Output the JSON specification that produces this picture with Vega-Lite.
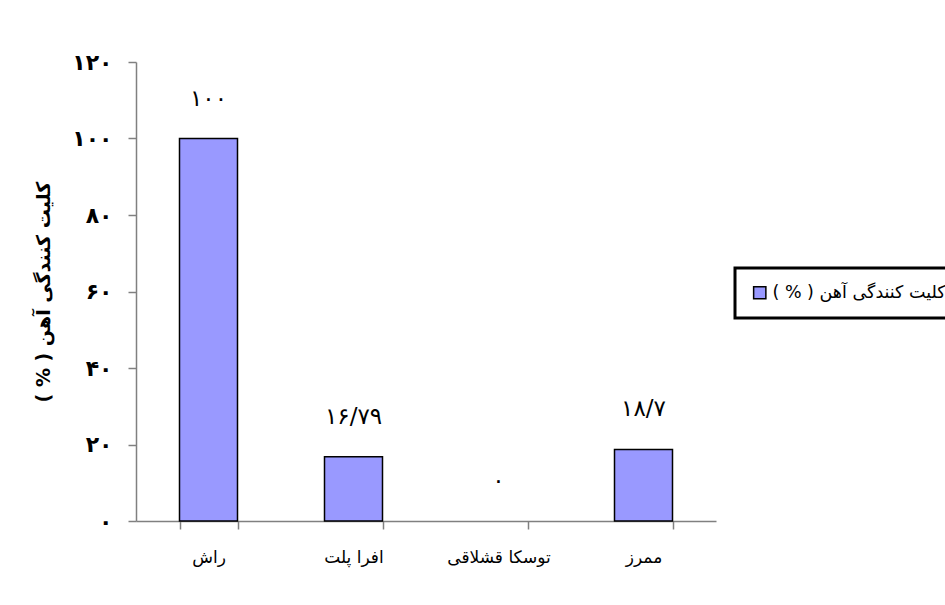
{
  "$schema": "https://vega.github.io/schema/vega-lite/v6.json",
  "width": 580,
  "height": 459,
  "autosize": {"type": "none"},
  "padding": {"left": 136, "top": 62, "right": 229, "bottom": 84},
  "background": "white",
  "config": {
    "view": {"stroke": null},
    "font": "DejaVu Sans"
  },
  "data": {
    "values": [
      {"species": "راش", "value": 100, "label": "۱۰۰", "series": "( % ) کلیت کنندگی آهن"},
      {"species": "افرا پلت", "value": 16.79, "label": "۱۶/۷۹", "series": "( % ) کلیت کنندگی آهن"},
      {"species": "توسکا قشلاقی", "value": 0, "label": "۰", "series": "( % ) کلیت کنندگی آهن"},
      {"species": "ممرز", "value": 18.7, "label": "۱۸/۷", "series": "( % ) کلیت کنندگی آهن"}
    ]
  },
  "encoding": {
    "x": {
      "field": "species",
      "type": "nominal",
      "sort": ["راش", "افرا پلت", "توسکا قشلاقی", "ممرز"],
      "scale": {"paddingInner": 0.6, "paddingOuter": 0.3},
      "axis": {
        "title": null,
        "labelAngle": 0,
        "labelFontSize": 17,
        "labelColor": "black",
        "labelPadding": 20,
        "domainColor": "#808080",
        "domainWidth": 1.5,
        "tickColor": "#808080",
        "tickWidth": 1.5,
        "tickSize": 8,
        "tickBand": "extent"
      }
    },
    "y": {
      "field": "value",
      "type": "quantitative",
      "scale": {"domain": [0, 120], "nice": false},
      "axis": {
        "values": [0, 20, 40, 60, 80, 100, 120],
        "labelExpr": "datum.value == 0 ? '۰' : datum.value == 20 ? '۲۰' : datum.value == 40 ? '۴۰' : datum.value == 60 ? '۶۰' : datum.value == 80 ? '۸۰' : datum.value == 100 ? '۱۰۰' : '۱۲۰'",
        "title": "( % ) کلیت کنندگی آهن",
        "titleFontSize": 19,
        "titleFontWeight": "bold",
        "titleColor": "black",
        "titlePadding": 18,
        "labelFontSize": 22,
        "labelFontWeight": "bold",
        "labelColor": "black",
        "labelPadding": 16,
        "grid": false,
        "domainColor": "#808080",
        "domainWidth": 1.5,
        "tickColor": "#808080",
        "tickWidth": 1.5,
        "tickSize": 8
      }
    }
  },
  "layer": [
    {
      "transform": [{"filter": "datum.value > 0"}],
      "mark": {"type": "bar", "stroke": "black", "strokeWidth": 1.5},
      "encoding": {
        "color": {
          "field": "series",
          "type": "nominal",
          "scale": {"range": ["#9999FF"]},
          "legend": {
            "title": null,
            "orient": "none",
            "legendX": 599,
            "legendY": 206,
            "strokeColor": "black",
            "padding": 16,
            "symbolType": "square",
            "symbolSize": 150,
            "symbolStrokeColor": "black",
            "symbolStrokeWidth": 1.5,
            "symbolOpacity": 1,
            "labelFontSize": 17.5,
            "labelColor": "black",
            "labelLimit": 400,
            "fillColor": "white",
            "encode": {"legend": {"update": {"strokeWidth": {"value": 3}}}}
          }
        }
      }
    },
    {
      "mark": {"type": "text", "fontSize": 23, "color": "black", "dy": -40, "baseline": "middle"},
      "encoding": {
        "text": {"field": "label"}
      }
    }
  ]
}
